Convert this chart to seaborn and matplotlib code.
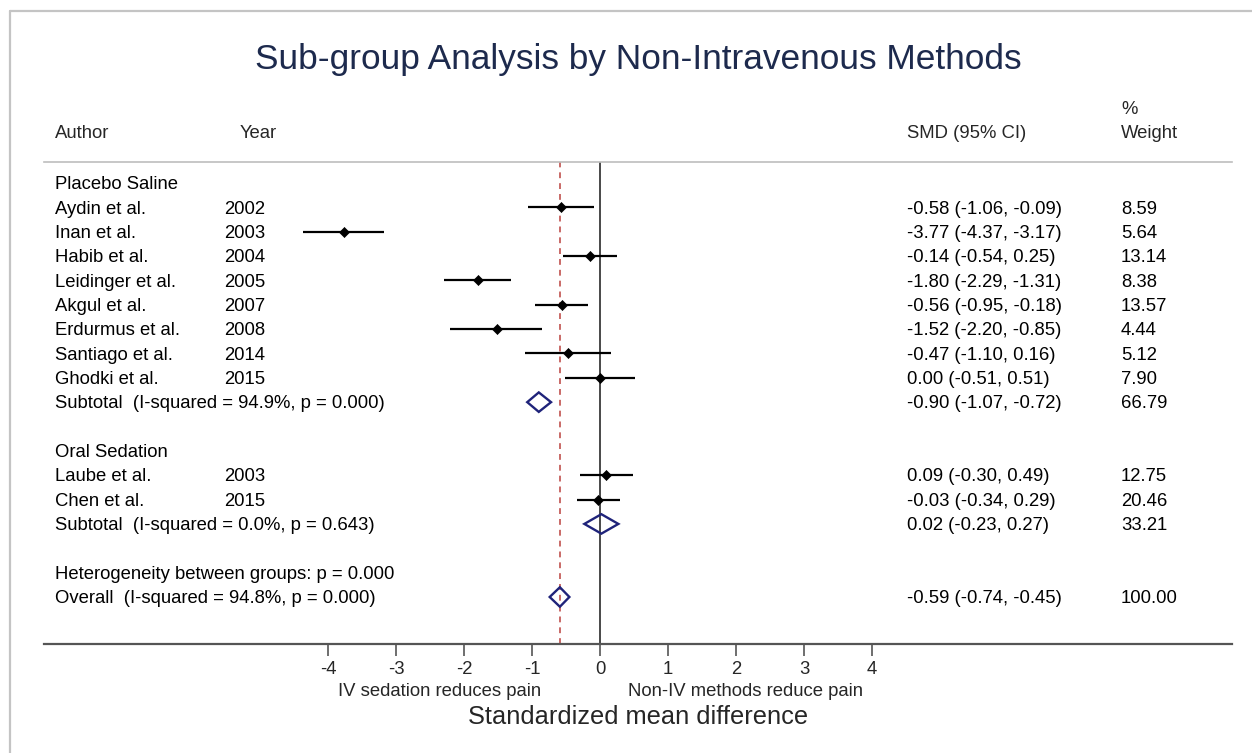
import matplotlib
matplotlib.use("Agg")
import matplotlib.pyplot as plt
import matplotlib.transforms as mtransforms
from matplotlib.lines import Line2D
from matplotlib.patches import Polygon
import numpy as np
import pandas as pd
import seaborn as sns

# ---- study-level data ----
groups = ["Placebo Saline", "Oral Sedation"]
authors = ["Aydin et al.", "Inan et al.", "Habib et al.", "Leidinger et al.",
           "Akgul et al.", "Erdurmus et al.", "Santiago et al.", "Ghodki et al.",
           "Laube et al.", "Chen et al."]
years = [2002, 2003, 2004, 2005, 2007, 2008, 2014, 2015, 2003, 2015]
study_group = ["Placebo Saline"] * 8 + ["Oral Sedation"] * 2
smd = [-0.58, -3.77, -0.14, -1.80, -0.56, -1.52, -0.47, 0.00, 0.09, -0.03]
ci_low = [-1.06, -4.37, -0.54, -2.29, -0.95, -2.20, -1.10, -0.51, -0.30, -0.34]
ci_high = [-0.09, -3.17, 0.25, -1.31, -0.18, -0.85, 0.16, 0.51, 0.49, 0.29]
weights = [8.59, 5.64, 13.14, 8.38, 13.57, 4.44, 5.12, 7.90, 12.75, 20.46]

# ---- subgroup pooled estimates ----
sub_i2 = [94.9, 0.0]
sub_p = ["0.000", "0.643"]
sub_smd = [-0.90, 0.02]
sub_low = [-1.07, -0.23]
sub_high = [-0.72, 0.27]
sub_weight = [66.79, 33.21]

# ---- overall pooled estimate ----
overall_smd = -0.59
overall_low = -0.74
overall_high = -0.45
overall_i2 = 94.8
overall_p = "0.000"
het_between_p = "0.000"

x_ticks = [-4, -3, -2, -1, 0, 1, 2, 3, 4]

sns.set_theme(style="white")
plt.rcParams["font.family"] = ["Liberation Sans", "DejaVu Sans"]

fig = plt.figure(figsize=(12.52, 7.53), dpi=100)
fig.patch.set_facecolor("white")
W, H = 1252.0, 753.0
ax = fig.add_axes([44 / W, 1 - 644 / H, (1232 - 44) / W, (644 - 162) / H])

# ---- build the row layout ----
study_df = pd.DataFrame({"author": authors, "year": years, "group": study_group,
                         "smd": smd, "lo": ci_low, "hi": ci_high, "w": weights})
group_y = []
sub_y = []
study_rows = {}
y = 0
for g in groups:
    group_y.append(y)
    y += 1
    for idx in study_df.index[study_df["group"] == g]:
        study_rows[idx] = y
        y += 1
    sub_y.append(y)
    y += 2
het_y = sub_y[-1] + 2
overall_y = het_y + 1
study_df["row"] = [study_rows[i] for i in study_df.index]

fs = 13.3
txt_dy = 0.07  # nudge text so its cap height is centred on the row
blend = mtransforms.blended_transform_factory(fig.transFigure, ax.transData)
col_author, col_year, col_smd, col_w = 55 / W, 224 / W, 907 / W, 1121 / W

# reference lines
ax.axvline(0, color="#3a3a3a", lw=1.3, zorder=1)
ax.axvline(overall_smd, color="#c0504d", lw=1.2, ls=(0, (3.5, 3)), zorder=1)

# confidence intervals
ax.hlines(study_df["row"], study_df["lo"], study_df["hi"], color="black", lw=1.6, zorder=2)
# point estimates
sns.scatterplot(data=study_df, x="smd", y="row", marker="D", color="black",
                s=26, edgecolor="black", linewidth=0.5, ax=ax, zorder=3, legend=False)

# pooled diamonds
navy = "#1f237a"
dh = 0.4
for ys, m, lo, hi in zip(sub_y, sub_smd, sub_low, sub_high):
    ax.add_patch(Polygon([(lo, ys), (m, ys - dh), (hi, ys), (m, ys + dh)],
                         closed=True, fill=False, edgecolor=navy, lw=1.7, zorder=4))
ax.add_patch(Polygon([(overall_low, overall_y), (overall_smd, overall_y - dh),
                      (overall_high, overall_y), (overall_smd, overall_y + dh)],
                     closed=True, fill=False, edgecolor=navy, lw=1.7, zorder=4))

# ---- text columns ----
def row_text(x, yy, s):
    ax.text(x, yy + txt_dy, s, transform=blend, ha="left", va="center", fontsize=fs,
            color="black", clip_on=False)

for g, gy in zip(groups, group_y):
    row_text(col_author, gy, g)
for _, r in study_df.iterrows():
    row_text(col_author, r["row"], r["author"])
    row_text(col_year, r["row"], str(r["year"]))
    row_text(col_smd, r["row"], f"{r['smd']:.2f} ({r['lo']:.2f}, {r['hi']:.2f})")
    row_text(col_w, r["row"], f"{r['w']:.2f}")
for gi in range(len(groups)):
    row_text(col_author, sub_y[gi], f"Subtotal  (I-squared = {sub_i2[gi]:.1f}%, p = {sub_p[gi]})")
    row_text(col_smd, sub_y[gi], f"{sub_smd[gi]:.2f} ({sub_low[gi]:.2f}, {sub_high[gi]:.2f})")
    row_text(col_w, sub_y[gi], f"{sub_weight[gi]:.2f}")
row_text(col_author, het_y, f"Heterogeneity between groups: p = {het_between_p}")
row_text(col_author, overall_y, f"Overall  (I-squared = {overall_i2:.1f}%, p = {overall_p})")
row_text(col_smd, overall_y, f"{overall_smd:.2f} ({overall_low:.2f}, {overall_high:.2f})")
row_text(col_w, overall_y, "100.00")

# ---- column headers ----
fig.text(55 / W, 1 - 134 / H, "Author", fontsize=fs, ha="left", va="center")
fig.text(240 / W, 1 - 134 / H, "Year", fontsize=fs, ha="left", va="center")
fig.text(col_smd, 1 - 134 / H, "SMD (95% CI)", fontsize=fs, ha="left", va="center")
fig.text(col_w, 1 - 109 / H, "%", fontsize=fs, ha="left", va="center")
fig.text(col_w, 1 - 134 / H, "Weight", fontsize=fs, ha="left", va="center")

# ---- title ----
fig.text(638 / W, 1 - 60 / H, "Sub-group Analysis by Non-Intravenous Methods",
         fontsize=25.4, color="#1d2a4d", ha="center", va="center")

# ---- axes styling ----
ax.set_xlim((44 - 600) / 68.0, (1232 - 600) / 68.0)
ax.set_ylim(18.93, -0.86)
ax.set_yticks([])
ax.set_ylabel("")
ax.set_xticks(x_ticks)
ax.set_xticklabels([str(t) for t in x_ticks])
ax.tick_params(axis="x", direction="out", length=8.5, width=1.2, color="#555555",
               pad=3.5, labelsize=fs, bottom=True)
for side in ["left", "right"]:
    ax.spines[side].set_visible(False)
ax.spines["bottom"].set_color("#555555")
ax.spines["bottom"].set_linewidth(1.6)
ax.spines["top"].set_color("#bdbdbd")
ax.spines["top"].set_linewidth(1.2)

lab_tr = mtransforms.blended_transform_factory(ax.transData, ax.transAxes)
ax.text(-2.36, (644 - 691) / (644 - 162), "IV sedation reduces pain",
        transform=lab_tr, ha="center", va="center", fontsize=fs)
ax.text(2.14, (644 - 691) / (644 - 162), "Non-IV methods reduce pain",
        transform=lab_tr, ha="center", va="center", fontsize=fs)
ax.set_xlabel("Standardized mean difference", fontsize=18.3, va="center")
ax.xaxis.set_label_coords(0.5, (644 - 717) / (644 - 162))

# outer frame
fig.add_artist(Line2D([10 / W, 10 / W], [0, 1 - 10.5 / H], transform=fig.transFigure,
                      color="#c4c4c4", lw=1.6))
fig.add_artist(Line2D([10 / W, 1], [1 - 10.5 / H, 1 - 10.5 / H], transform=fig.transFigure,
                      color="#c4c4c4", lw=1.6))

fig.savefig("out.png", dpi=100, facecolor="white")
